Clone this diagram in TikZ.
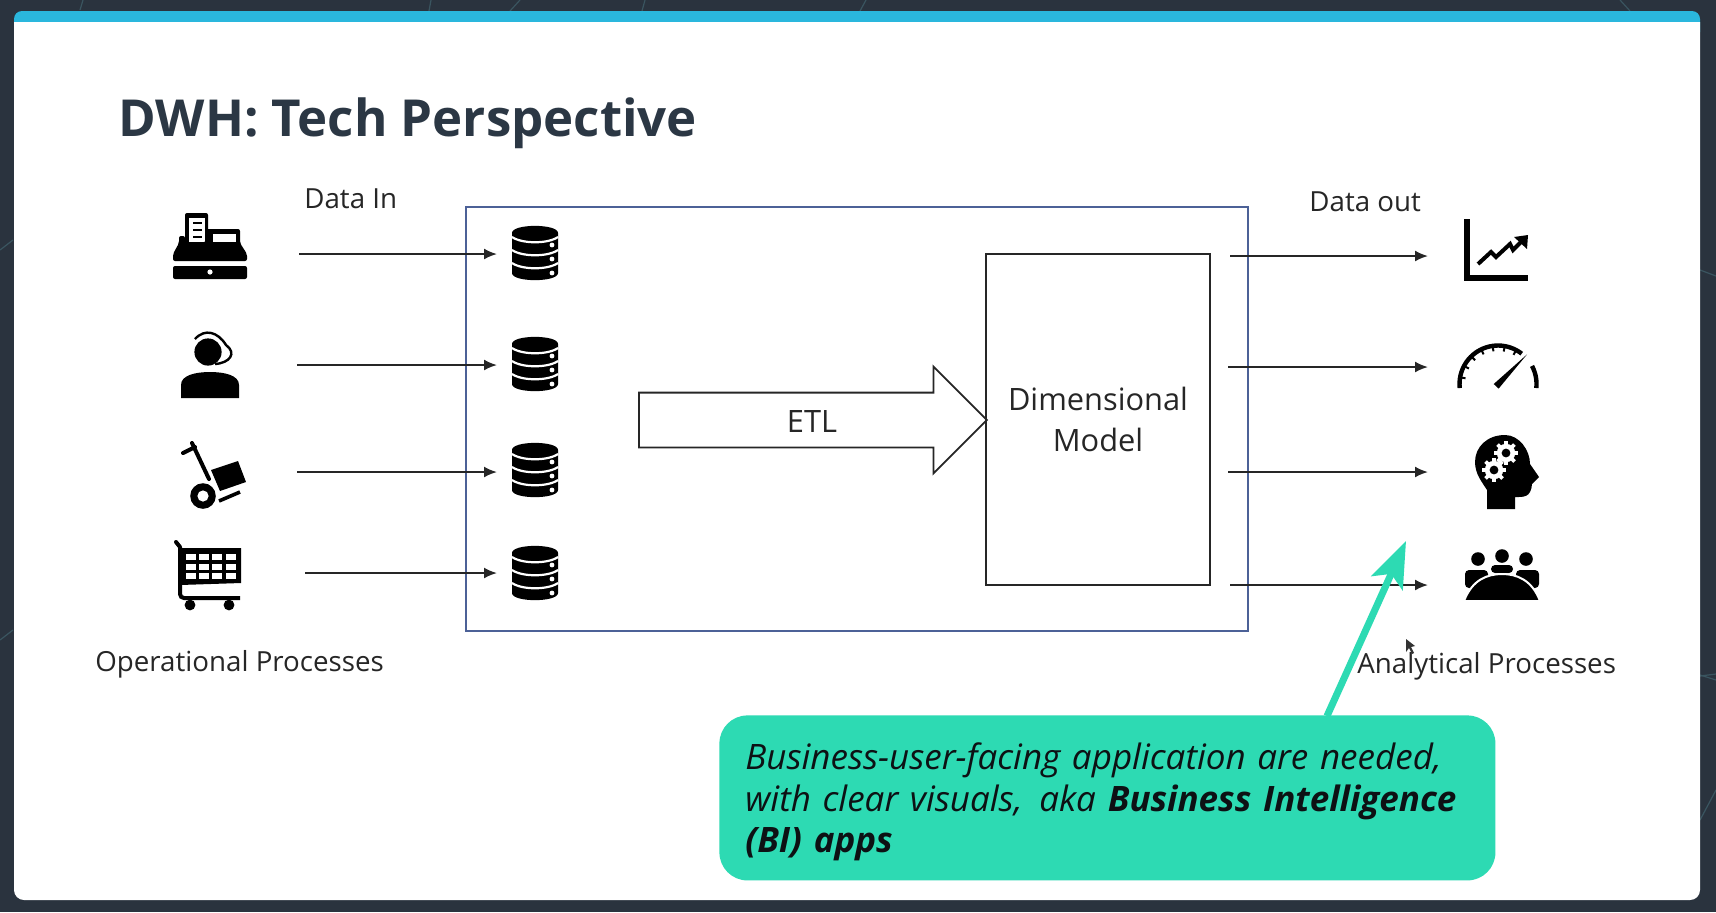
\documentclass[tikz,border=0pt]{standalone}
\usepackage{fontspec}
\setmainfont{Open Sans}
\usetikzlibrary{arrows}
\usetikzlibrary{arrows.meta}
\usetikzlibrary{positioning}
\usetikzlibrary{shapes.arrows}
\definecolor{slidebg}{HTML}{2A333E}
\definecolor{slidebar}{HTML}{2AB7DD}
\definecolor{slideink}{HTML}{2B3744}
\definecolor{labelink}{HTML}{262626}
\definecolor{dwhblue}{HTML}{4C6197}
\definecolor{callteal}{HTML}{2DDAB3}
\definecolor{bgline}{HTML}{3A5560}
\newcommand{\dbnode}[2]{\node(#1)[slot] at (535,#2) {}; \pic at (#1) {dbicon}}
\newcommand{\sidelabel}[3]{\node[label text,anchor=base west] at (#1,#2) {#3}}
\newcommand{\gear}[2]{
  \foreach \a in {0,45,...,315} {\draw[white,line width=1.8pt] (#1,#2) -- ++({12*cos(\a)},{12*sin(\a)});}
  \fill[white] (#1,#2) circle (4.6pt);
  \fill[black] (#1,#2) circle (2.2pt);
}
\tikzset{
  dbicon/.pic={
    \fill (-23,-20) .. controls (-23,-29.5) and (23,-29.5) .. (23,-20) -- (23,20)
      .. controls (23,29.5) and (-23,29.5) .. (-23,20) -- cycle;
    \foreach \y in {-16,-3,10} {
      \draw[white,line width=1.1pt] (-23,\y) .. controls (-13,\y+7) and (13,\y+7) .. (23,\y);
    }
    \foreach \y in {-8,6,20} {\fill[white] (17,\y) circle (1.2pt);}
  },
  registericon/.pic={
    \fill[rounded corners=1pt] (-25,-33) rectangle (-2,0);
    \fill[white] (-21,-28) rectangle (-5,-4);
    \foreach \y in {-23,-16,-9} {\draw[line width=1pt] (-17,\y) -- (-8,\y);}
    \fill[rounded corners=1pt] (-5,-17) -- (30,-17) -- (30,-3) -- (37,8) -- (37,15)
      -- (-37,15) -- (-37,8) -- (-31,-3) -- (-31,-10) -- (-25,-10) -- (-25,-3) -- (-5,-3) -- cycle;
    \fill[white] (3,-12) rectangle (26,-4);
    \fill[rounded corners=1pt] (-37,20) rectangle (37,33);
    \fill[white] (0,26) circle (1.3pt);
  },
  agenticon/.pic={
    \fill (-2,-13) circle (6.8pt);
    \fill (-29,33) -- (-29,20) .. controls (-29,10) and (-14,7) .. (0,7)
      .. controls (14,7) and (29,10) .. (29,20) -- (29,33) -- cycle;
    \draw[line width=1.2pt] (-15,-26) .. controls (-5,-37) and (8,-33) .. (16,-20)
      .. controls (27,-12) and (20,-2) .. (5,-1);
  },
  dollyicon/.pic={
    \draw[line width=2pt,line cap=round] (-22,-32) -- (-5,4);
    \draw[line width=2pt,line cap=round] (-31,-22) -- (-19,-28);
    \fill (-3,-5) -- (24,-14) -- (32,7) -- (6,16) -- cycle;
    \draw[line width=1.8pt] (5,26) -- (26,17);
    \fill (-11,21) circle (6.4pt);
    \fill[white] (-11,21) circle (2.8pt);
  },
  carticon/.pic={
    \draw[line width=2pt,line cap=round] (-32,-33) -- (-28,-28);
    \draw[line width=2pt,rounded corners=2pt] (-28,-28) -- (-28,23) -- (32,23);
    \fill (-28,-27) -- (33,-27) -- (33,8) -- (-28,10) -- cycle;
    \foreach \y in {-20.7,-11,-1.7} {
      \foreach \x in {-22,-9,4.3,17.7} {\fill[white] (\x,\y) rectangle ++(10,5.7);}
    }
    \fill (-18,30) circle (2.7pt);
    \fill (21,30) circle (2.7pt);
  },
  charticon/.pic={
    \draw[line width=2.6pt] (-30,-31) -- (-30,28) -- (31,28);
    \draw[line width=2pt] (-19,14) -- (-6,2) -- (-1,7) -- (13,-6) -- (16,0) -- (26,-10);
    \fill (17,-13) -- (31,-15) -- (30,-1) -- cycle;
  },
  gaugeicon/.pic={
    \draw[line width=2.2pt] plot[domain=186:52,samples=30] ({38.5*cos(\x)},{18-38.5*sin(\x)});
    \draw[line width=2.2pt] plot[domain=28:-6,samples=12] ({38.5*cos(\x)},{18-38.5*sin(\x)});
    \foreach \a in {170,152,134,116,98,80,62} {
      \draw[line width=1pt] ({37*cos(\a)},{18-37*sin(\a)}) -- ({33*cos(\a)},{18-33*sin(\a)});
    }
    \fill (-4.3,18) -- (0.6,22.6) -- (29,-11.6) -- cycle;
  },
  headicon/.pic={
    \fill (-2,-37) .. controls (-20,-37) and (-32,-25) .. (-32,-10)
      .. controls (-32,2) and (-25,10) .. (-20,18) -- (-20,37) -- (8,37) -- (8,25)
      .. controls (16,25) and (24,26) .. (25,12) -- (32,5) -- (23,-8)
      .. controls (23,-22) and (12,-37) .. (-2,-37) -- cycle;
    \gear{-1}{-19}
    \gear{-13}{-2}
  },
  peopleicon/.pic={
    \foreach \x/\y in {-24/-16,0/-19,24/-16} {\fill (\x,\y) circle (3.4pt);}
    \fill[rounded corners=2pt] (-37,13) -- (-37,-5) -- (-14,-5) -- (-14,13) -- cycle;
    \fill[rounded corners=2pt] (-11,-2) -- (-11,-10) -- (11,-10) -- (11,-2) -- cycle;
    \fill[rounded corners=2pt] (14,13) -- (14,-5) -- (37,-5) -- (37,13) -- cycle;
    \fill[draw=white,line width=1pt] (-38,26) .. controls (-30,5) and (-15,-1) .. (0,-1)
      .. controls (15,-1) and (30,5) .. (38,26) -- cycle;
    \fill[white] (-40,25.5) rectangle (40,29);
  },
}

\begin{document}
\begin{tikzpicture}[
        x=0.5pt,y=-0.5pt,
        slot/.style={rectangle,minimum width=38pt,minimum height=27pt,inner sep=0pt,outer sep=0pt},
        label text/.style={font=\fontsize{13.85}{16}\selectfont,text=labelink,inner sep=0pt},
        flow/.style={-{Latex[length=6.5pt,width=5.5pt]},line width=1pt,draw=black!85},
        callout/.style={rectangle,rounded corners=14pt,fill=callteal,minimum width=388pt,
                        minimum height=82.5pt,inner sep=0pt},
        callout text/.style={inner sep=0pt,text width=362pt,align=left,
                        font=\fontsize{17.5}{20.8}\selectfont\itshape,text=slideink!30!black}
      ]
      \useasboundingbox (0,0) rectangle (1716,912);
      \fill[slidebg] (0,0) rectangle (1716,912);
      % faint marks of the slide background
      \foreach \xa/\ya/\xb/\yb in {83/0/80/10,431/0/429/11,520/0/510/11,645/0/642/11,866/0/860/11,1620/0/1630/11,0/250/13/240,0/640/13/630,1700/676/1716/674,1700/675/1716/680,1700/820/1716/790,1700/270/1716/276}
        {\draw[bgline,line width=.6pt] (\xa,\ya) -- (\xb,\yb);}
      \fill[slidebar,rounded corners=4pt] (14,11) rectangle (1700,40);
      \fill[white,rounded corners=5pt] (14,22) [sharp corners] -- (1700,22) [rounded corners=5pt] -- (1700,900) -- (14,900) [sharp corners] -- cycle;

      \node(title)[anchor=base west,inner sep=0pt,text=slideink,font=\fontsize{25.5}{30}\selectfont\bfseries] at (118,136) {DWH: Tech Perspective};

      \node(dwh)[draw=dwhblue,line width=.9pt,minimum width=391pt,minimum height=212pt,inner sep=0pt] at (857,419) {};
      \node(etl)[single arrow,draw=black!85,line width=.9pt,minimum height=174pt,
                 single arrow head extend=13pt,single arrow tip angle=90,inner xsep=0pt,inner ysep=13.25pt,
                 anchor=tail] at (638,420) {};
      \node(etltext)[inner sep=0pt,font=\fontsize{15.4}{18}\selectfont,text=labelink] at (812,421) {ETL};
      \node(dimmodel)[draw=black!85,line width=.9pt,minimum width=112pt,minimum height=165.5pt,align=center,
                 inner sep=0pt,font=\fontsize{15.4}{20.5}\selectfont,text=labelink] at (1098,419.5) {Dimensional\\Model};

      \pic at (210,246) {registericon};
      \pic at (210,365) {agenticon};
      \pic at (214,475) {dollyicon};
      \pic at (208,575) {carticon};
      \pic at (1497,250) {charticon};
      \pic at (1498,366) {gaugeicon};
      \pic at (1507,472) {headicon};
      \pic at (1502,575) {peopleicon};

      \dbnode{db1}{253};
      \dbnode{db2}{364};
      \dbnode{db3}{470};
      \dbnode{db4}{573};

      \foreach \i/\x/\y in {1/299/254,2/297/365,3/297/472,4/305/573}
        {\coordinate (src\i) at (\x,\y); \draw[flow] (src\i) -- (db\i.west |- src\i);}
      \foreach \i/\x/\y in {1/1230/256,2/1228/367,3/1228/472,4/1230/585}
        {\coordinate (rep\i) at (\x,\y); \coordinate (use\i) at (1428,\y); \draw[flow] (rep\i) -- (use\i);}

      \sidelabel{304}{208}{Data In};
      \sidelabel{1309}{211}{Data out};
      \sidelabel{95}{671}{Operational Processes};
      \sidelabel{1357}{673}{Analytical Processes};

      \node(bibox)[callout,anchor=north west] at (719,715) {};
      \node(bitext)[callout text] at ([yshift=-2pt]bibox.center)
        {Business-user-facing application are needed,\\with clear visuals,\hspace{8.4pt}aka \textbf{Business Intelligence}\\\textbf{(BI) apps}};
      \coordinate (bifoot) at (1327,716);
      \coordinate (bitip) at (1406,541);
      \draw[callteal,line width=3.5pt,-{Stealth[length=23pt,width=17pt,inset=5pt]}] (bifoot) -- (bitip);

      % mouse pointer
      \fill[black!80] (1406,639) -- (1406,652) -- (1409,648) -- (1412,654) -- (1414,653) -- (1411,647) -- (1415,646) -- cycle;
    \end{tikzpicture}
\end{document}
